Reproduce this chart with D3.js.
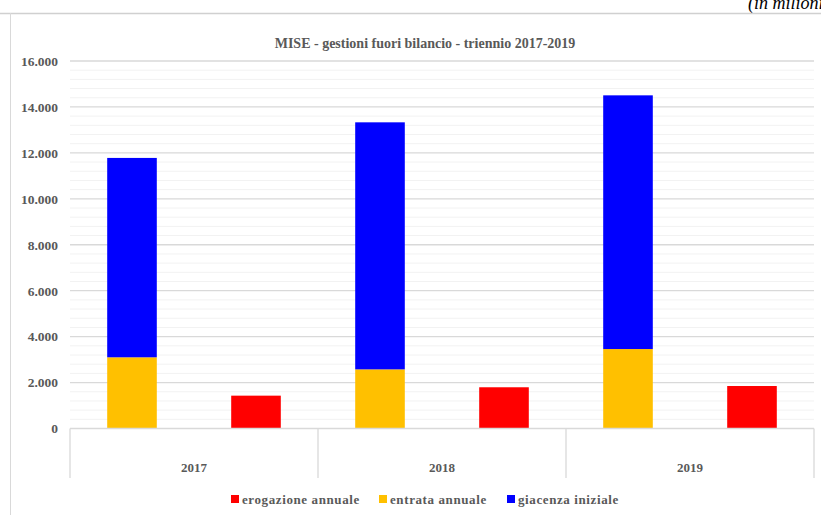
<!DOCTYPE html>
<html><head><meta charset="utf-8">
<script src="https://cdn.jsdelivr.net/npm/d3@7"></script>
<style>body{margin:0;background:#fff;}svg{display:block;}</style>
</head><body>
<svg id="c" width="821" height="515"></svg>
<script>
const years = ["2017", "2018", "2019"];
const erogazione = [1430, 1795, 1850];
const entrata = [3100, 2575, 3460];
const giacenza = [8680, 10755, 11045];
const yTicks = [0, 2000, 4000, 6000, 8000, 10000, 12000, 14000, 16000];
const seriesNames = ["erogazione annuale", "entrata annuale", "giacenza iniziale"];
const seriesColors = ["#ff0000", "#ffc000", "#0000ff"];

const svg = d3.select("#c");
const font = "Liberation Serif, DejaVu Serif, serif";
const gray = "#595959";
const L = 70, R = 814, T = 61, B = 428.5;

// frame
svg.append("line").attr("x1", 0).attr("x2", 821).attr("y1", 13.5).attr("y2", 13.5).attr("stroke", "#d0d0d0").attr("stroke-width", 1.5);
svg.append("line").attr("x1", 10.5).attr("x2", 10.5).attr("y1", 13).attr("y2", 515).attr("stroke", "#d9d9d9").attr("stroke-width", 1);
svg.append("text").attr("x", 748).attr("y", 9).attr("font-family", font).attr("font-style", "italic")
  .attr("font-size", 18).attr("fill", "#000").text("(in milioni)");

const y = d3.scaleLinear().domain([0, 16000]).range([B, T]);
const x = d3.scaleBand().domain(years).range([L, R]).padding(0);
const xi = d3.scaleBand().domain(["stack", "erog"]).range([0, x.bandwidth()]).paddingInner(0.6).paddingOuter(0.3);

// minor grid
const minor = d3.range(0, 16001, 400).filter(v => v % 2000 !== 0);
svg.append("g").selectAll("line").data(minor).join("line")
  .attr("x1", L).attr("x2", R).attr("y1", d => y(d)).attr("y2", d => y(d))
  .attr("stroke", "#f2f2f2").attr("stroke-width", 1);
// major grid
svg.append("g").selectAll("line").data(yTicks.slice(1)).join("line")
  .attr("x1", L).attr("x2", R).attr("y1", d => y(d)).attr("y2", d => y(d))
  .attr("stroke", "#d9d9d9").attr("stroke-width", 1.3);

// y axis labels
const yAxis = d3.axisLeft(y).tickValues(yTicks).tickSize(0).tickPadding(12)
  .tickFormat(d => d3.format(",")(d).replace(/,/g, "."));
const ya = svg.append("g").attr("transform", `translate(${L},0)`).call(yAxis);
ya.select(".domain").remove();
ya.selectAll("text").attr("font-family", font).attr("font-weight", "bold").attr("font-size", 13.5).attr("fill", gray);

// bars
const data = years.map((yr, i) => ({ yr, e: erogazione[i], en: entrata[i], g: giacenza[i] }));
const gb = svg.append("g");
data.forEach(d => {
  const xs = x(d.yr) + xi("stack"), xe = x(d.yr) + xi("erog"), w = xi.bandwidth();
  gb.append("rect").attr("x", xs).attr("width", w).attr("y", y(d.en)).attr("height", y(0) - y(d.en)).attr("fill", seriesColors[1]);
  gb.append("rect").attr("x", xs).attr("width", w).attr("y", y(d.en + d.g)).attr("height", y(d.en) - y(d.en + d.g)).attr("fill", seriesColors[2]);
  gb.append("rect").attr("x", xe).attr("width", w).attr("y", y(d.e)).attr("height", y(0) - y(d.e)).attr("fill", seriesColors[0]);
});

// x axis
svg.append("line").attr("x1", L).attr("x2", R).attr("y1", B).attr("y2", B).attr("stroke", "#d9d9d9").attr("stroke-width", 1.5);
const seps = years.map(yr => x(yr)).concat([R]);
svg.append("g").selectAll("line").data(seps).join("line")
  .attr("x1", d => d).attr("x2", d => d).attr("y1", B).attr("y2", 478)
  .attr("stroke", "#d9d9d9").attr("stroke-width", 1.3);
svg.append("g").selectAll("text").data(years).join("text")
  .attr("x", d => x(d) + x.bandwidth() / 2).attr("y", 472).attr("text-anchor", "middle")
  .attr("font-family", font).attr("font-weight", "bold").attr("font-size", 13).attr("fill", gray).text(d => d);

// title
svg.append("text").attr("x", 425).attr("y", 48).attr("text-anchor", "middle")
  .attr("font-family", font).attr("font-weight", "bold").attr("font-size", 14).attr("fill", gray)
  .text("MISE - gestioni fuori bilancio - triennio 2017-2019");

// legend
const lx = [231, 379, 507];
const lg = svg.append("g");
seriesNames.forEach((n, i) => {
  lg.append("rect").attr("x", lx[i]).attr("y", 495).attr("width", 8).attr("height", 8).attr("fill", seriesColors[i]);
  lg.append("text").attr("x", lx[i] + 11).attr("y", 504).attr("font-family", font).attr("font-weight", "bold")
    .attr("font-size", 13).attr("letter-spacing", 0.6).attr("fill", gray).text(n);
});
</script>
</body></html>
